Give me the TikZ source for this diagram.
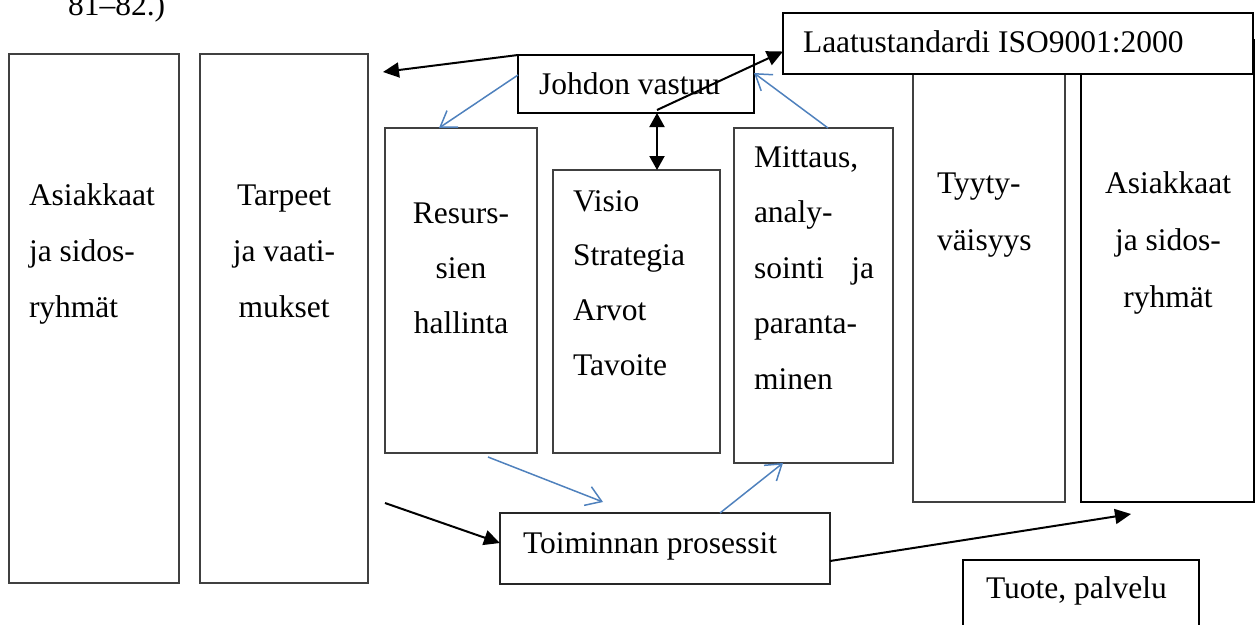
\documentclass[tikz,border=0pt]{standalone}
\usepackage{fontspec}
\setmainfont{Liberation Serif}
\usetikzlibrary{arrows.meta}
\definecolor{wordblue}{RGB}{79,129,189}
\begin{document}
\begin{tikzpicture}[x=1pt,y=-1pt,
  box/.style={draw=black!75,line width=1.3pt,fill=white,anchor=north west,
    inner sep=0pt,outer sep=0pt},
  heavy/.style={draw=black,line width=2pt},
  txt/.style={inner sep=0pt,outer sep=0pt,font=\fontsize{31.5}{#1}\selectfont},
  txt/.default=56,
  flow/.style={line width=2pt,-{Triangle[length=16pt,width=15pt]}},
  both/.style={line width=2pt,{Triangle[length=14pt,width=15pt]}-{Triangle[length=14pt,width=15pt]}},
  feed/.style={draw=wordblue,line width=1.5pt,-{Straight Barb[length=15pt,width=20pt]}}]
\useasboundingbox (0,0) rectangle (1260,624);
\clip (0,0) rectangle (1260,624);

% caption tail
\node[txt,anchor=base west] (cap) at (68,15) {81–82.)};

% columns
\node[box,minimum width=170pt,minimum height=529pt] (b1) at (9,54) {};
\node[box,minimum width=168pt,minimum height=529pt] (b2) at (200,54) {};
\node[box,minimum width=152pt,minimum height=325pt] (res) at (385,128) {};
\node[box,minimum width=167pt,minimum height=283pt] (vis) at (553,170) {};
\node[box,minimum width=159pt,minimum height=335pt] (mit) at (734,128) {};
\node[box,minimum width=152pt,minimum height=462pt] (tyy) at (913,40) {};
\node[box,heavy,line width=2.3pt,minimum width=173pt,minimum height=462pt] (ras) at (1081,40) {};

% headers and process boxes
\node[box,heavy,minimum width=236pt,minimum height=58pt] (joh) at (518,55) {};
\node[box,heavy,minimum width=470pt,minimum height=61pt] (laa) at (783,13) {};
\node[box,line width=1.5pt,draw=black!85,minimum width=330pt,minimum height=71pt] (toi) at (500,513) {};
\node[box,heavy,minimum width=236pt,minimum height=90pt] (tuo) at (963,560) {};

% texts
\node[txt,anchor=base west] (t1) at (29,205)
  {\begin{tabular}[t]{@{}l@{}}Asiakkaat\\ja sidos-\\ryhmät\end{tabular}};
\node[txt,anchor=base] (t2) at (284,205)
  {\begin{tabular}[t]{@{}c@{}}Tarpeet\\ja vaati-\\mukset\end{tabular}};
\node[txt=55,anchor=base] (t3) at (461,223)
  {\begin{tabular}[t]{@{}c@{}}Resurs-\\sien\\hallinta\end{tabular}};
\node[txt=54.7,anchor=base west] (t4) at (573,211)
  {\begin{tabular}[t]{@{}l@{}}Visio\\Strategia\\Arvot\\Tavoite\end{tabular}};
\node[txt=55.5,anchor=base west] (t5) at (754,167)
  {\begin{tabular}[t]{@{}l@{}}Mittaus,\\analy-\\\makebox[120pt][s]{sointi\hfill ja}\\paranta-\\minen\end{tabular}};
\node[txt=57,anchor=base west] (t6) at (937,193)
  {\begin{tabular}[t]{@{}l@{}}Tyyty-\\väisyys\end{tabular}};
\node[txt=57,anchor=base] (t7) at (1168,193)
  {\begin{tabular}[t]{@{}c@{}}Asiakkaat\\ja sidos-\\ryhmät\end{tabular}};
\node[txt,anchor=base west] (tj) at (539,94) {Johdon vastuu};
\node[txt,anchor=base west] (tl) at (803,52) {Laatustandardi ISO9001:2000};
\node[txt,anchor=base west] (tt) at (523,553) {Toiminnan prosessit};
\node[txt,anchor=base west] (tp) at (986,598) {Tuote, palvelu};

% free ends
\coordinate (cL) at (383,72);
\coordinate (jv) at (657,110);

% black flows
\draw[flow] (joh.north west) -- (cL);
\draw[flow] (jv) -- ([yshift=-8pt]laa.west);
\draw[both] (jv |- joh.south) -- (jv |- vis.north);
\draw[flow] ([xshift=17pt,yshift=80pt]b2.south east) -- ([yshift=5.5pt]toi.west);
\draw[flow] ([yshift=-12.5pt]toi.east) -- ([xshift=50pt,yshift=-12pt]ras.south west);

% blue feedback arrows
\draw[feed] ([yshift=9pt]joh.west) -- ([xshift=-22pt]res.north);
\draw[feed] ([xshift=14.5pt]mit.north) -- ([yshift=11pt]joh.east);
\draw[feed] ([xshift=27pt,yshift=-4pt]res.south) -- ([xshift=-62pt,yshift=11pt]toi.north);
\draw[feed] ([xshift=55pt]toi.north) -- ([xshift=-30.5pt]mit.south);
\end{tikzpicture}
\end{document}
